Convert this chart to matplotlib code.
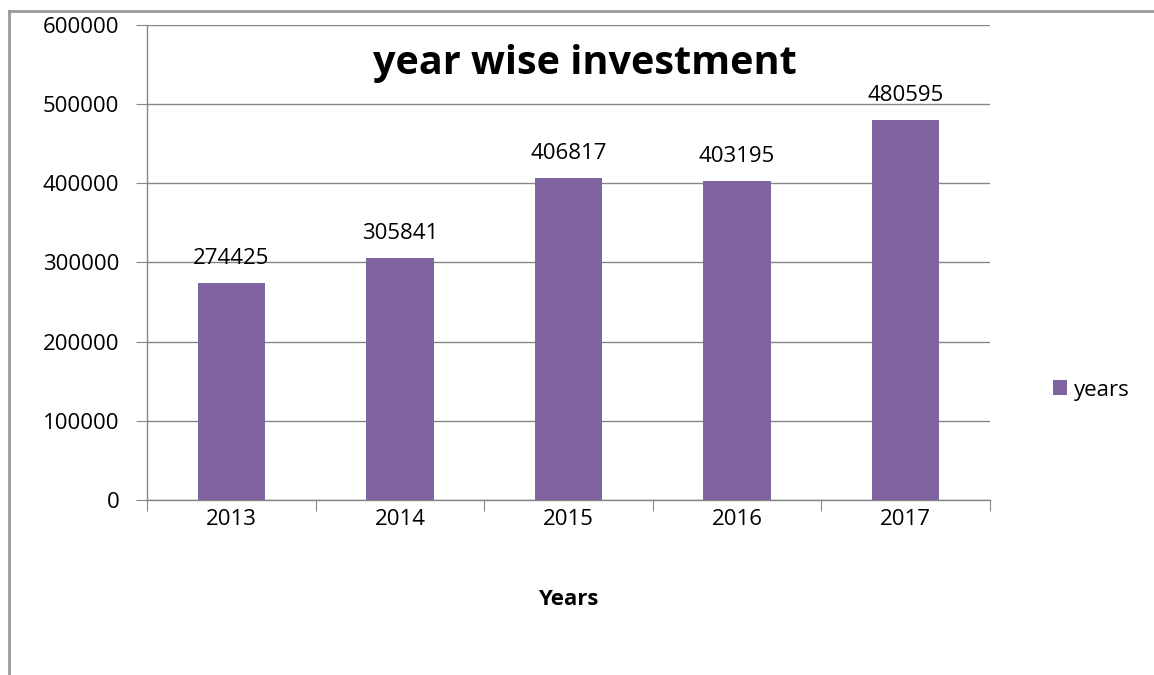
import numpy as np
import matplotlib.pyplot as plt
from matplotlib.lines import Line2D

plt.rcParams['font.family'] = ['Open Sans', 'DejaVu Sans']

# investment per year
years = ['2013', '2014', '2015', '2016', '2017']
investment = [274425, 305841, 406817, 403195, 480595]
y_ticks = [0, 100000, 200000, 300000, 400000, 500000, 600000]

bar_color = '#8064A2'
grid_color = '#868686'
fs = 16

fig = plt.figure(figsize=(11.54, 6.75), dpi=100)
ax = fig.add_axes([0.1274, 0.2593, 0.7305, 0.7037])

x = np.arange(len(years))
bars = ax.bar(x, investment, width=0.4, color=bar_color, label='years', zorder=3)

# value labels over each bar
for xi, v in zip(x, investment):
    ax.annotate(str(v), (xi, v), xytext=(0, 10), textcoords='offset points',
                ha='center', va='bottom', fontsize=fs)

ax.set_xlim(-0.5, len(years) - 0.5)
ax.set_ylim(0, 600000)
ax.set_yticks(y_ticks)
ax.set_yticklabels([str(t) for t in y_ticks], fontsize=fs)

# tick marks between categories, labels under the bar centres
ax.set_xticks(np.arange(-0.5, len(years), 1.0))
ax.set_xticklabels([])
ax.set_xticks(x, minor=True)
ax.set_xticklabels(years, minor=True, fontsize=fs)
ax.tick_params(axis='x', which='major', length=8, color=grid_color, direction='out')
ax.tick_params(axis='x', which='minor', length=0, pad=6.5)
ax.tick_params(axis='y', length=8, color=grid_color, direction='out', pad=12)

ax.grid(axis='y', color=grid_color, linewidth=1, zorder=0)
ax.set_axisbelow(True)
for side in ['top', 'right']:
    ax.spines[side].set_visible(False)
for side in ['left', 'bottom']:
    ax.spines[side].set_color(grid_color)
    ax.spines[side].set_linewidth(1)

ax.set_xlabel('Years', fontsize=fs, fontweight='bold')
ax.xaxis.label.set_va('center')
ax.xaxis.set_label_coords(0.5, -0.21)
ax.text(0.5196, 0.918, 'year wise investment', transform=ax.transAxes, ha='center',
        va='center', fontsize=28.5, fontweight='bold')

fig.legend(handles=[bars], labels=['years'], loc='center left',
           bbox_to_anchor=(0.895, 0.422), frameon=False, fontsize=fs,
           handlelength=0.65, handleheight=0.65, handletextpad=0.3)

# outer chart border (left and top edges)
fig.add_artist(Line2D([0.0078, 0.0078], [0, 0.9837], color='#999999', linewidth=2,
                      transform=fig.transFigure))
fig.add_artist(Line2D([0.0078, 1.0], [0.9837, 0.9837], color='#999999', linewidth=2,
                      transform=fig.transFigure))

fig.savefig('out.png', dpi=100)
